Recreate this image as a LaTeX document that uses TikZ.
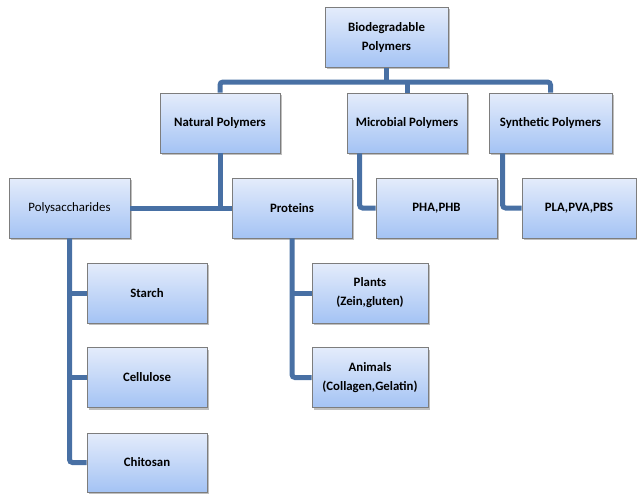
\documentclass[tikz,border=0pt]{standalone}
\usepackage{fontspec}
\setmainfont{Carlito}
\usetikzlibrary{shadows,calc}
\definecolor{conncol}{RGB}{72,112,164}
\definecolor{boxtop}{RGB}{228,236,251}
\definecolor{boxbot}{RGB}{164,195,244}
\definecolor{boxline}{RGB}{125,125,125}
\tikzset{
  box/.style={draw=boxline, line width=0.8pt, top color=boxtop, bottom color=boxbot,
    minimum width=120pt, minimum height=60pt, inner sep=0pt, align=center,
    font=\fontsize{12.8}{19}\selectfont\bfseries,
    drop shadow={shadow xshift=1.5pt, shadow yshift=-2pt, fill=black, opacity=0.25}},
  conn/.style={draw=conncol, line width=5pt, rounded corners=3pt}
}
\begin{document}
\begin{tikzpicture}[x=1pt,y=-1pt]
\useasboundingbox (0,0) rectangle (637,495);
\coordinate (bar) at (0,82);
\node[box, minimum width=123pt] (bio) at (386.5,37.5) {Biodegradable\\Polymers};
\node[box] (nat) at (220,123) {Natural Polymers};
\node[box] (mic) at (407,123) {Microbial Polymers};
\node[box, minimum width=123pt] (syn) at (550.5,123) {Synthetic Polymers};
\node[box, minimum width=121pt, font=\fontsize{12.8}{19}\selectfont] (poly) at (69.5,208) {Polysaccharides};
\node[box] (prot) at (292,208) {Proteins};
\node[box, minimum width=121pt] (pha) at (436.5,208) {PHA,PHB};
\node[box, minimum width=114pt] (pla) at (579,208) {PLA,PVA,PBS};
\node[box] (starch) at (147,293) {Starch};
\node[box] (cell) at (147,377.5) {Cellulose};
\node[box, minimum height=59pt] (chit) at (147,462.5) {Chitosan};
\node[box, minimum width=116pt] (plants) at (370,293) {Plants\\(Zein,gluten)};
\node[box, minimum width=116pt] (animals) at (370,377.5) {Animals\\(Collagen,Gelatin)};
\path[conn] (nat.north) -- (nat.north |- bar) -| (syn.north);
\path[conn] (bio.south) -- (bio.south |- bar);
\path[conn] (mic.north) -- (mic.north |- bar);
\path[conn] (nat.south) -- (nat.south |- poly.east);
\path[conn] (poly.east) -- (prot.west);
\path[conn] ([xshift=13pt]mic.south west) |- (pha.west);
\path[conn] ([xshift=14pt]syn.south west) |- (pla.west);
\path[conn] (poly.south) |- (chit.west);
\path[conn] (poly.south |- starch.west) -- (starch.west);
\path[conn] (poly.south |- cell.west) -- (cell.west);
\path[conn] (prot.south) |- (animals.west);
\path[conn] (prot.south |- plants.west) -- (plants.west);
\end{tikzpicture}
\end{document}
